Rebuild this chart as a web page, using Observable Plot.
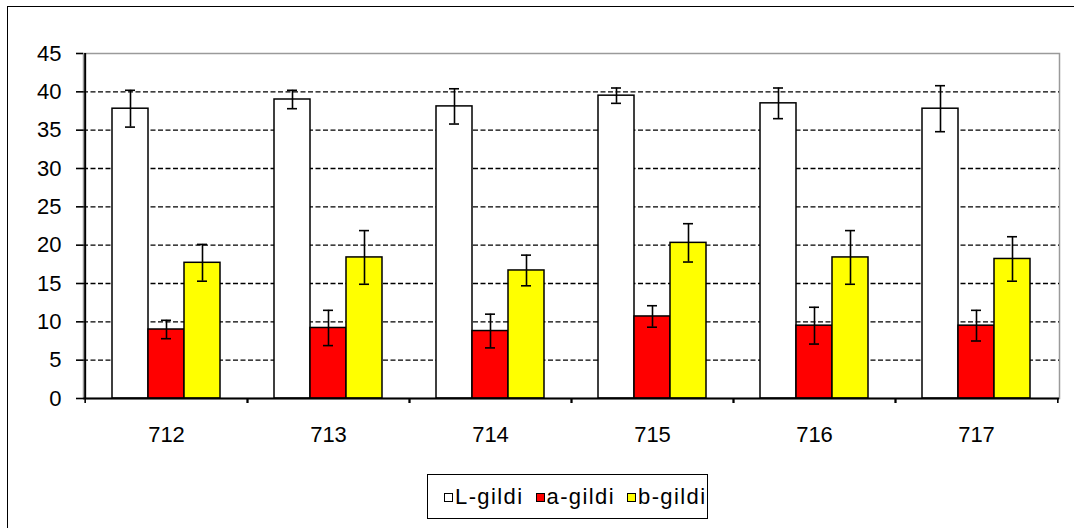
<!DOCTYPE html>
<html><head><meta charset="utf-8">
<script src="https://cdn.jsdelivr.net/npm/d3@7"></script>
<script src="https://cdn.jsdelivr.net/npm/@observablehq/plot@0.6"></script>
<style>
html,body{margin:0;padding:0;background:#fff;overflow:hidden;width:1074px;height:528px;}
#wrap{position:relative;width:1074px;height:528px;font-family:"Liberation Sans",Arial,sans-serif;color:#000;}
#border{position:absolute;left:7px;top:6px;width:1100px;height:600px;border:1.7px solid #000;box-sizing:border-box;}
#chart{position:absolute;left:0;top:0;}
#legend{position:absolute;left:427px;top:474px;width:281px;height:45px;border:1.5px solid #000;box-sizing:border-box;display:flex;align-items:center;justify-content:flex-start;padding-left:16px;font-size:22px;white-space:nowrap;letter-spacing:1.4px;}
.item{display:flex;align-items:center;margin-right:12px;}
.item:last-child{margin-right:0;}
.sw{width:9px;height:9px;border:1.3px solid #000;margin-right:2px;margin-top:2px;box-sizing:border-box;}
</style></head><body>
<div id="wrap"><div id="border"></div><div id="chart"></div><div id="legend"></div></div>
<script>
const categories = ["712", "713", "714", "715", "716", "717"];
const seriesNames = ["L-gildi", "a-gildi", "b-gildi"];
const valuesL = [37.8, 39.0, 38.1, 39.5, 38.5, 37.8];
const errorsL = [2.4, 1.2, 2.3, 1.0, 2.0, 3.0];
const valuesA = [9.0, 9.2, 8.8, 10.7, 9.5, 9.5];
const errorsA = [1.2, 2.3, 2.2, 1.4, 2.4, 2.0];
const valuesB = [17.7, 18.4, 16.7, 20.3, 18.4, 18.2];
const errorsB = [2.4, 3.5, 2.0, 2.5, 3.5, 2.9];
const yTicks = [0, 5, 10, 15, 20, 25, 30, 35, 40, 45];

const fills = ["#ffffff", "#ff0000", "#ffff00"];
const seriesValues = [valuesL, valuesA, valuesB];
const seriesErrors = [errorsL, errorsA, errorsB];

const W = 1074, H = 460, mL = 83, mR = 15, mT = 53, mB = 62;
const step = (W - mL - mR) / categories.length;
const barW = 36;
const pInner = 1 - barW / step;
const offsets = [-barW, 0, barW];

const rowsBySeries = seriesNames.map((s, k) =>
  categories.map((c, i) => ({cat: c, series: s, v: seriesValues[k][i], e: seriesErrors[k][i]})));

const marks = [
  Plot.frame({stroke: "#9a9a9a", strokeWidth: 1.5}),
  Plot.ruleY(yTicks.filter(t => t > 0 && t < 45), {stroke: "#000", strokeWidth: 1.3, strokeDasharray: "5,2.5"}),
];
rowsBySeries.forEach((rows, k) => {
  marks.push(Plot.barY(rows, {x: "cat", y: "v", fill: fills[k], stroke: "#000", strokeWidth: 1.5, dx: offsets[k]}));
});
rowsBySeries.forEach((rows, k) => {
  marks.push(Plot.ruleX(rows, {x: "cat", y1: d => d.v - d.e, y2: d => d.v + d.e, dx: offsets[k], stroke: "#000", strokeWidth: 1.6}));
  marks.push(Plot.tickY(rows, {x: "cat", y: d => d.v + d.e, dx: offsets[k], insetLeft: 13, insetRight: 13, stroke: "#000", strokeWidth: 1.6}));
  marks.push(Plot.tickY(rows, {x: "cat", y: d => d.v - d.e, dx: offsets[k], insetLeft: 13, insetRight: 13, stroke: "#000", strokeWidth: 1.6}));
});
marks.push(
  Plot.ruleY([0], {stroke: "#000", strokeWidth: 2}),
  Plot.ruleX(categories.slice(0, 1), {dx: -step / 2, stroke: "#000", strokeWidth: 2}),
  Plot.axisY({ticks: yTicks, tickSize: 7, tickPadding: 15, strokeWidth: 1.6, label: null, fill: "#000"}),
  Plot.axisX({tickSize: 0, tickPadding: 28, label: null, fill: "#000"}),
  Plot.axisX({tickSize: 5, tickFormat: () => "", dx: -step / 2, strokeWidth: 1.6, label: null}),
  Plot.axisX({tickSize: 5, tickFormat: () => "", dx: step / 2, strokeWidth: 1.6, label: null})
);

const chart = Plot.plot({
  width: W, height: H,
  marginLeft: mL, marginRight: mR, marginTop: mT, marginBottom: mB,
  style: {fontFamily: "'Liberation Sans', Arial, sans-serif", fontSize: "22px", color: "#000", background: "transparent"},
  x: {type: "band", domain: categories, paddingInner: pInner, paddingOuter: pInner / 2, align: 0.5, axis: null},
  y: {domain: [0, 45], nice: false, axis: null},
  marks
});
document.getElementById("chart").appendChild(chart);

const legend = document.getElementById("legend");
seriesNames.forEach((s, k) => {
  const item = document.createElement("div");
  item.className = "item";
  const sw = document.createElement("span");
  sw.className = "sw";
  sw.style.background = fills[k];
  const t = document.createElement("span");
  t.textContent = s;
  item.appendChild(sw);
  item.appendChild(t);
  legend.appendChild(item);
});
</script>
</body></html>
